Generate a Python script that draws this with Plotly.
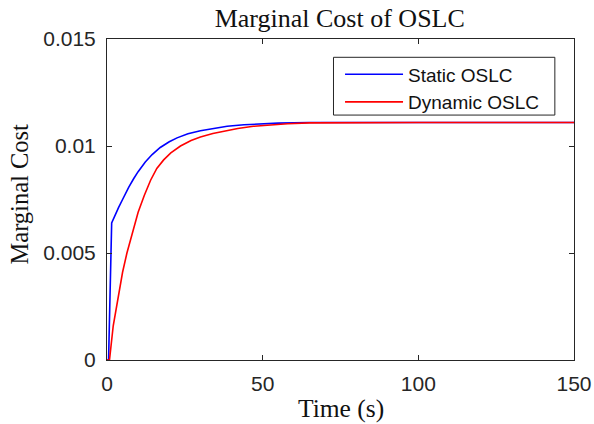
import plotly.graph_objects as go

# Time (s) and marginal cost values
t_static = [0, 0.5, 1.5, 2.5, 3.7, 5.0, 6.0, 7.0, 8.6, 10.0, 12.3, 14.5, 17.1, 20.0, 22.5,
            26.0, 30.0, 34.0, 38.6, 44.0, 49.0, 55.0, 65.0, 80.0, 100.0, 150.0]
v_static = [0, 0, 0.0064, 0.00675, 0.00712, 0.0075, 0.0078, 0.00808, 0.00848, 0.0088,
            0.00925, 0.0096, 0.00993, 0.0102, 0.01038, 0.01057, 0.01071, 0.01082, 0.01092,
            0.01099, 0.01104, 0.01107, 0.0111, 0.0111, 0.0111, 0.0111]

t_dynamic = [0, 0.8, 2.0, 3.0, 4.0, 5.0, 6.4, 8.0, 10.0, 12.0, 14.0, 16.0, 18.2, 20.5, 23.6,
             27.0, 30.0, 34.0, 37.4, 42.0, 47.0, 52.0, 58.0, 65.0, 80.0, 100.0, 150.0]
v_dynamic = [0, 0, 0.0016, 0.0025, 0.0033, 0.0041, 0.0050, 0.0059, 0.0069, 0.0077, 0.0084,
             0.00895, 0.00935, 0.00968, 0.0100, 0.01026, 0.01042, 0.01058, 0.01069, 0.01082,
             0.01092, 0.01099, 0.01104, 0.01108, 0.0111, 0.0111, 0.0111]

x_ticks = [0, 50, 100, 150]
y_ticks = [0, 0.005, 0.01, 0.015]
y_tick_labels = ["0", "0.005", "0.01", "0.015"]

fig = go.Figure()
fig.add_trace(go.Scatter(x=t_static, y=v_static, mode="lines", name="Static OSLC",
                         line=dict(color="rgb(0,0,255)", width=1.6)))
fig.add_trace(go.Scatter(x=t_dynamic, y=v_dynamic, mode="lines", name="Dynamic OSLC",
                         line=dict(color="rgb(255,0,0)", width=1.6)))

axis_common = dict(showgrid=False, zeroline=False, showline=True, linecolor="#262626",
                   linewidth=1, mirror="ticks", ticks="inside", ticklen=5, tickcolor="#262626",
                   tickfont=dict(family="Liberation Sans, Arial", size=21, color="#262626"))

fig.update_xaxes(range=[0, 150], tickvals=x_ticks, ticklabelstandoff=5, **axis_common)
fig.update_yaxes(range=[0, 0.015], tickvals=y_ticks, ticktext=y_tick_labels,
                 ticklabelstandoff=6, **axis_common)

serif = "Liberation Serif, Times New Roman"
fig.update_layout(
    width=594, height=424,
    margin=dict(l=107, r=20, t=39, b=64, autoexpand=False),
    paper_bgcolor="white", plot_bgcolor="white",
    title=dict(text="Marginal Cost of OSLC", x=0.572, xanchor="center",
               y=1 - 18 / 424, yanchor="middle", yref="container",
               font=dict(family=serif, size=26, color="#111")),
    showlegend=True,
    legend=dict(x=0.499, y=0.949, xanchor="left", yanchor="top",
                bgcolor="rgba(0,0,0,0)", borderwidth=0,
                font=dict(family="Liberation Sans, Arial", size=19, color="#111"),
                itemwidth=58, tracegroupgap=0),
    shapes=[
        dict(type="rect", xref="paper", yref="paper", x0=0.485, x1=0.959, y0=0.763, y1=0.943,
             line=dict(color="#262626", width=1), fillcolor="white", layer="above"),
    ],
    annotations=[
        dict(text="Time (s)", xref="paper", yref="paper", x=0.5, y=0, xanchor="center",
             yanchor="middle", yshift=-48, showarrow=False,
             font=dict(family=serif, size=25.5, color="#111")),
        dict(text="Marginal Cost", xref="paper", yref="paper", x=0, y=0.5, xanchor="center",
             yanchor="middle", xshift=-88, yshift=5, textangle=-90, showarrow=False,
             font=dict(family=serif, size=24.5, color="#111")),
    ],
)

fig.write_html("out.html", config={"displayModeBar": False},
               post_script="document.body.style.margin='0';")
